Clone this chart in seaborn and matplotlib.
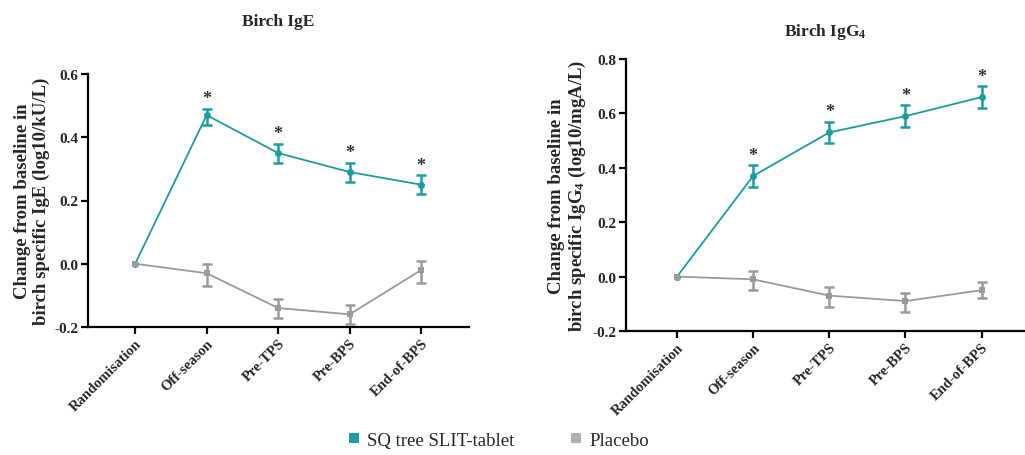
import matplotlib
matplotlib.use("Agg")
import matplotlib.pyplot as plt
import numpy as np
import pandas as pd
import seaborn as sns

visits = ["Randomisation", "Off-season", "Pre-TPS", "Pre-BPS", "End-of-BPS"]

# Birch IgE change from baseline (log10 kU/L)
ige_slit = [0.0, 0.47, 0.35, 0.29, 0.25]
ige_slit_lo = [0.0, 0.44, 0.32, 0.26, 0.22]
ige_slit_hi = [0.0, 0.49, 0.38, 0.32, 0.28]
ige_pbo = [0.0, -0.03, -0.14, -0.16, -0.02]
ige_pbo_lo = [0.0, -0.07, -0.17, -0.19, -0.06]
ige_pbo_hi = [0.0, 0.00, -0.11, -0.13, 0.01]

# Birch IgG4 change from baseline (log10 mgA/L)
igg4_slit = [0.0, 0.37, 0.53, 0.59, 0.66]
igg4_slit_lo = [0.0, 0.33, 0.49, 0.55, 0.62]
igg4_slit_hi = [0.0, 0.41, 0.57, 0.63, 0.70]
igg4_pbo = [0.0, -0.01, -0.07, -0.09, -0.05]
igg4_pbo_lo = [0.0, -0.05, -0.11, -0.13, -0.08]
igg4_pbo_hi = [0.0, 0.02, -0.04, -0.06, -0.02]

# visits with a significant difference vs placebo
signif = [False, True, True, True, True]

series_names = ["SQ tree SLIT-tablet", "Placebo"]
TEAL = "#1a9ca1"
GREY = "#9a9a9c"

sns.set_theme(style="ticks")
plt.rcParams["font.family"] = ["Liberation Serif", "DejaVu Serif"]
plt.rcParams["mathtext.fontset"] = "custom"
plt.rcParams["mathtext.rm"] = "Liberation Serif:bold"
plt.rcParams["mathtext.it"] = "Liberation Serif:bold"
plt.rcParams["mathtext.bf"] = "Liberation Serif:bold"

fig = plt.figure(figsize=(10.25, 4.56), dpi=100)
W, H = 1025, 456


def px_axes(x0, x1, ytop, ybot):
    return fig.add_axes([x0 / W, 1 - ybot / H, (x1 - x0) / W, (ybot - ytop) / H])


ax1 = px_axes(88, 469, 75, 328)
ax2 = px_axes(626, 1025, 60, 332)


def draw_panel(ax, slit, slit_lo, slit_hi, pbo, pbo_lo, pbo_hi, ylim, yticks,
               ylabel, title, title_pad, xlim):
    x = np.arange(len(visits))
    df = pd.DataFrame({
        "visit": np.concatenate([x, x]),
        "value": slit + pbo,
        "group": [series_names[0]] * len(x) + [series_names[1]] * len(x),
    })
    sns.lineplot(data=df, x="visit", y="value", hue="group", style="group",
                 palette=[TEAL, GREY], markers=["o", "s"], dashes=False,
                 markersize=5, markeredgewidth=0, linewidth=1.3,
                 legend=False, ax=ax, zorder=3)
    for vals, lo, hi, col in [(pbo, pbo_lo, pbo_hi, GREY),
                              (slit, slit_lo, slit_hi, TEAL)]:
        v = np.array(vals)
        yerr = np.vstack([v - np.array(lo), np.array(hi) - v])
        ax.errorbar(x[1:], v[1:], yerr=yerr[:, 1:], fmt="none", ecolor=col,
                    elinewidth=1.8, capsize=3.5, capthick=1.8, zorder=4)
    for xi, s, hi in zip(x, signif, slit_hi):
        if s:
            ax.annotate("*", xy=(xi, hi), xytext=(0, 1), textcoords="offset points",
                        ha="center", va="bottom", fontsize=13, fontweight="bold",
                        color="#333333")
    ax.set_xlim(*xlim)
    ax.set_ylim(*ylim)
    ax.set_yticks(yticks)
    ax.set_yticklabels([f"{t:.1f}" for t in yticks], fontsize=11, fontweight="bold")
    ax.set_xticks(x)
    ax.set_xticklabels(visits, rotation=45, ha="right", rotation_mode="anchor",
                       fontsize=10.5, fontweight="bold")
    ax.set_xlabel("")
    ax.set_ylabel(ylabel, fontsize=13.5, fontweight="bold", labelpad=3,
                  linespacing=1.1)
    for side in ["top", "right"]:
        ax.spines[side].set_visible(False)
    for side in ["left", "bottom"]:
        ax.spines[side].set_linewidth(1.6)
        ax.spines[side].set_color("black")
    ax.tick_params(axis="both", width=1.6, length=5, color="black", pad=2)
    ax.set_title(title, fontsize=12.5, fontweight="bold", y=1.0, pad=title_pad)


draw_panel(ax1, ige_slit, ige_slit_lo, ige_slit_hi, ige_pbo, ige_pbo_lo, ige_pbo_hi,
           (-0.2, 0.6), [-0.2, 0.0, 0.2, 0.4, 0.6],
           "Change from baseline in\nbirch specific IgE (log10/kU/L)",
           "Birch IgE", 35, (-0.66, 4.67))
draw_panel(ax2, igg4_slit, igg4_slit_lo, igg4_slit_hi, igg4_pbo, igg4_pbo_lo, igg4_pbo_hi,
           (-0.2, 0.8), [-0.2, 0.0, 0.2, 0.4, 0.6, 0.8],
           "Change from baseline in\nbirch specific IgG$_4$ (log10/mgA/L)",
           "Birch IgG$_4$", 17, (-0.67, 4.57))

# shared legend along the bottom
handles = [
    plt.Line2D([], [], marker="s", linestyle="none", markersize=7,
               markerfacecolor=TEAL, markeredgewidth=0),
    plt.Line2D([], [], marker="s", linestyle="none", markersize=7,
               markerfacecolor="#b0b0b0", markeredgewidth=0),
]
fig.legend(handles, series_names, loc="center", bbox_to_anchor=(497 / W, 1 - 441 / H),
           ncol=2, frameon=False, fontsize=13.5, handletextpad=0.2, columnspacing=2.8,
           handlelength=1.0)

fig.savefig("out.png", dpi=100)
